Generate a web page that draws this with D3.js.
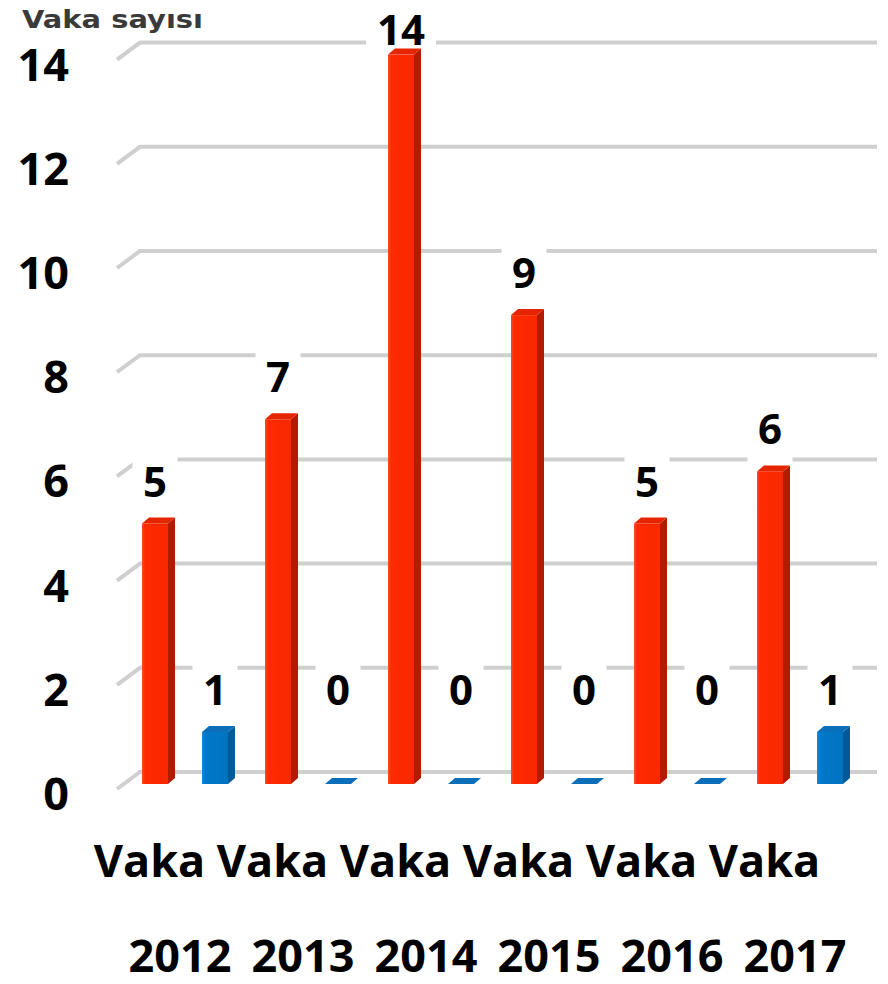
<!DOCTYPE html>
<html lang="tr">
<head>
<meta charset="UTF-8">
<title>Vaka sayısı 2012-2017</title>
<script src="https://d3js.org/d3.v7.min.js"></script>
<style>
    body { margin: 0; background: #fff; }
    svg { display: block; font-family: "Open Sans", "DejaVu Sans", sans-serif; }
</style>
</head>
<body>
<div id="chart"></div>
<script>
    // data
    const years = ['2012', '2013', '2014', '2015', '2016', '2017'];
    const categoryWord = 'Vaka';
    const vakaCounts = [5, 7, 14, 9, 5, 6];     // red bars
    const otherCounts = [1, 0, 0, 0, 0, 1];     // blue bars
    const yTicks = [0, 2, 4, 6, 8, 10, 12, 14];
    const yTitle = 'Vaka sayısı';

    const width = 888, height = 984;
    const depthX = 7, depthY = 6;   // fake 3d offset of the bars

    const svg = d3.select('#chart').append('svg')
        .attr('width', width)
        .attr('height', height);

    const y = d3.scaleLinear().domain([0, 14]).range([784, 54.6]);
    const x0 = d3.scaleBand().domain(years).range([127, 865]);
    const x1 = d3.scaleBand().domain(['vaka', 'other'])
        .range([0, x0.bandwidth()])
        .paddingInner(0.45).paddingOuter(0.25);

    const series = [
        { key: 'vaka', values: vakaCounts, front: 'url(#redFront)', side: '#b41a00', top: '#e52400' },
        { key: 'other', values: otherCounts, front: 'url(#blueFront)', side: '#005a98', top: '#0a6fb8' }
    ];

    const defs = svg.append('defs');
    function gradient(id, stops) {
        const g = defs.append('linearGradient').attr('id', id)
            .attr('x1', '0%').attr('x2', '100%').attr('y1', '0%').attr('y2', '0%');
        stops.forEach(s => g.append('stop').attr('offset', s[0]).attr('stop-color', s[1]));
    }
    gradient('redFront', [['0%', '#ff4a2a'], ['12%', '#ff2a00'], ['100%', '#f82800']]);
    gradient('blueFront', [['0%', '#1a8ad6'], ['12%', '#0079c9'], ['100%', '#0073c0']]);

    // title
    svg.append('text')
        .attr('x', 22).attr('y', 28)
        .attr('fill', '#3a3a3a')
        .attr('font-family', '"DejaVu Sans", sans-serif')
        .attr('font-size', 24).attr('font-weight', 700)
        .attr('textLength', 181).attr('lengthAdjust', 'spacingAndGlyphs')
        .text(yTitle);

    // gridlines (back wall + slanted floor edge)
    const grid = svg.append('g').attr('stroke', '#cfcfcf').attr('stroke-width', 4).attr('fill', 'none');
    yTicks.forEach(t => {
        grid.append('path')
            .attr('d', `M117,${y(t) + 5}L140,${y(t) - 12}L877,${y(t) - 12}`);
    });

    // tick labels
    svg.append('g').selectAll('text')
        .data(yTicks).enter().append('text')
        .attr('x', 69)
        .attr('y', d => y(d) + 10 + 16)
        .attr('text-anchor', 'end')
        .attr('font-size', 45).attr('font-weight', 700)
        .attr('fill', '#000')
        .text(d => d);

    // value label positions
    const labelData = [];
    series.forEach(s => {
        s.values.forEach((v, i) => {
            const cx = x0(years[i]) + x1(s.key) + (x1.bandwidth() - depthX) / 2;
            const cy = Math.max(y(Math.max(v, 1)) - 42, 30);
            labelData.push({ v, cx, cy });
        });
    });

    // white boxes behind labels hide the gridlines
    svg.append('g').selectAll('rect')
        .data(labelData).enter().append('rect')
        .attr('x', d => d.cx - (String(d.v).length * 25 + 20) / 2)
        .attr('y', d => d.cy - 33)
        .attr('width', d => String(d.v).length * 25 + 20)
        .attr('height', 66)
        .attr('fill', '#fff');

    // 3d bars
    series.forEach(s => {
        const g = svg.append('g');
        s.values.forEach((v, i) => {
            const bx = x0(years[i]) + x1(s.key);
            const w = x1.bandwidth() - depthX;
            const yt = y(v), yb = y(0);
            if (v > 0) {
                g.append('rect').attr('x', bx).attr('y', yt)
                    .attr('width', w).attr('height', yb - yt)
                    .attr('fill', s.front);
                g.append('path')
                    .attr('d', `M${bx + w},${yt}L${bx + w + depthX},${yt - depthY}L${bx + w + depthX},${yb - depthY}L${bx + w},${yb}Z`)
                    .attr('fill', s.side);
            }
            g.append('path')
                .attr('d', `M${bx},${yt}L${bx + depthX},${yt - depthY}L${bx + w + depthX},${yt - depthY}L${bx + w},${yt}Z`)
                .attr('fill', s.top);
        });
    });

    // value labels
    svg.append('g').selectAll('text')
        .data(labelData).enter().append('text')
        .attr('x', d => d.cx)
        .attr('y', d => d.cy + 15)
        .attr('text-anchor', 'middle')
        .attr('font-size', 42).attr('font-weight', 700)
        .attr('fill', '#000')
        .text(d => d.v);

    // category labels: "Vaka" line and the year line
    const cat = svg.append('g')
        .attr('font-size', 45).attr('font-weight', 700)
        .attr('text-anchor', 'middle').attr('fill', '#000');
    cat.selectAll('.word')
        .data(years).enter().append('text')
        .attr('class', 'word')
        .attr('x', d => x0(d) + x0.bandwidth() / 2 - 39)
        .attr('y', 877)
        .text(categoryWord);
    cat.selectAll('.year')
        .data(years).enter().append('text')
        .attr('class', 'year')
        .attr('x', d => x0(d) + x0.bandwidth() / 2 - 8.5)
        .attr('y', 972)
        .text(d => d);
</script>
</body>
</html>
